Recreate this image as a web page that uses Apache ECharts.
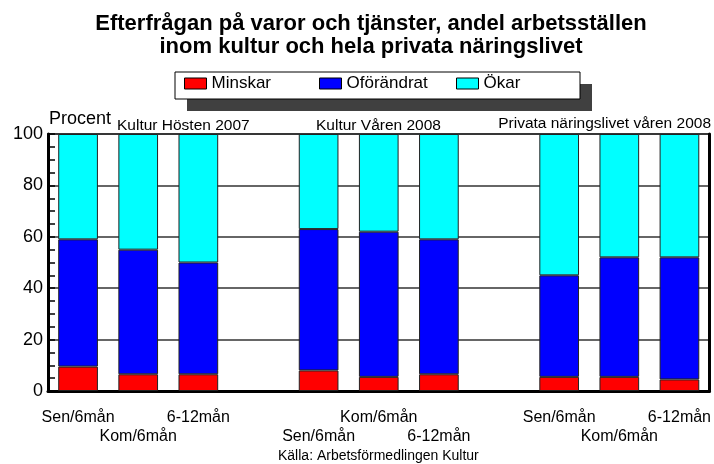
<!DOCTYPE html>
<html>
<head>
<meta charset="utf-8">
<script src="https://cdn.jsdelivr.net/npm/echarts@6/dist/echarts.min.js"></script>
<style>
  html, body { margin: 0; padding: 0; background: #fff; }
  #main { width: 714px; height: 464px; }
</style>
</head>
<body>
<div id="main"></div>
<script>
// kategorier (tomma platser skiljer grupperna åt)
const categories = ['Sen/6mån', 'Kom/6mån', '6-12mån', '',
  'Sen/6mån', 'Kom/6mån', '6-12mån', '',
  'Sen/6mån', 'Kom/6mån', '6-12mån']
const minskar = [9.5, 6.5, 6.5, null, 8, 5.5, 6.5, null, 5.5, 5.5, 4.5]
const oforandrat = [49.5, 48.5, 43.5, null, 55, 56.5, 52.5, null, 39.5, 46.5, 47.5]
const okar = [41, 45, 50, null, 37, 38, 41, null, 55, 48, 48]
const groupTitles = ['Kultur Hösten 2007', 'Kultur Våren 2008', 'Privata näringslivet våren 2008']
const seriesNames = ['Minskar', 'Oförändrat', 'Ökar']
const colors = ['#ff0000', '#0000ff', '#00ffff']

const font = '"Liberation Sans", Arial, sans-serif'
const lowerRow = [1, 4, 6, 9]
const legendLeft = [184, 319, 456]

const chart = echarts.init(document.getElementById('main'))

const makeSeries = (name, data, color) => ({
  name,
  type: 'bar',
  stack: 'total',
  data,
  barCategoryGap: '34%',
  itemStyle: { color, borderColor: '#222', borderWidth: 1 }
})

const txt = (text, pos, size) => ({
  type: 'text',
  ...pos,
  style: { text, fontFamily: font, fontSize: size, fill: '#000' }
})

const option = {
  animation: false,
  textStyle: { fontFamily: font },
  title: {
    text: 'Efterfrågan på varor och tjänster, andel arbetsställen\ninom kultur och hela privata näringslivet',
    left: 371,
    textAlign: 'center',
    top: 12,
    padding: 0,
    textStyle: { fontFamily: font, fontSize: 22, fontWeight: 'bold', color: '#000', lineHeight: 23 }
  },
  graphic: [
    { type: 'rect', shape: { x: 187, y: 84, width: 405, height: 27 }, style: { fill: '#404040' }, z: 0 },
    { type: 'rect', shape: { x: 175, y: 72, width: 405, height: 27 }, style: { fill: '#fff', stroke: '#000', lineWidth: 1 }, z: 1 },
    txt('Procent', { left: 49, top: 110 }, 18),
    txt(groupTitles[0], { left: 117, top: 118 }, 15.5),
    txt(groupTitles[1], { left: 316, top: 118 }, 15.5),
    txt(groupTitles[2], { right: 3, top: 116 }, 15.5),
    txt('Källa: Arbetsförmedlingen Kultur', { left: 278, top: 449 }, 14)
  ],
  legend: seriesNames.map((name, i) => ({
    data: [name],
    left: legendLeft[i],
    top: 75,
    padding: 0,
    itemWidth: 22,
    itemHeight: 11,
    itemStyle: { borderColor: '#000', borderWidth: 1 },
    textStyle: { fontFamily: font, fontSize: 17, color: '#000' },
    icon: 'rect',
    z: 5
  })),
  grid: {
    left: 48,
    right: 4,
    top: 134,
    bottom: 73,
    show: true,
    borderColor: '#000',
    borderWidth: 1.5
  },
  xAxis: {
    type: 'category',
    data: categories,
    axisLine: { lineStyle: { color: '#000', width: 3 } },
    axisTick: { show: false },
    axisLabel: {
      interval: 0,
      hideOverlap: false,
      margin: 17,
      fontSize: 16,
      lineHeight: 19,
      color: '#000',
      fontFamily: font,
      formatter: (v, i) => (lowerRow.includes(i) ? '\n' + v : v)
    }
  },
  yAxis: [{
    type: 'value',
    min: 0,
    max: 100,
    interval: 20,
    axisLine: { show: true, lineStyle: { color: '#000', width: 3 } },
    axisTick: { show: true, inside: true, length: 7, lineStyle: { color: '#000', width: 1.5 } },
    minorTick: { show: true, splitNumber: 4, length: 7, lineStyle: { color: '#000', width: 1.5 } },
    axisLabel: { fontSize: 18, color: '#000', margin: 5, fontFamily: font, padding: [4, 0, 0, 0] },
    splitLine: { show: true, lineStyle: { color: '#333', width: 1.5 } }
  }, {
    type: 'value',
    position: 'right',
    min: 0,
    max: 100,
    interval: 20,
    axisLine: { show: true, lineStyle: { color: '#000', width: 3 } },
    axisTick: { show: false },
    axisLabel: { show: false },
    splitLine: { show: false }
  }],
  series: [
    makeSeries(seriesNames[0], minskar, colors[0]),
    makeSeries(seriesNames[1], oforandrat, colors[1]),
    makeSeries(seriesNames[2], okar, colors[2])
  ]
}

chart.setOption(option)
</script>
</body>
</html>
